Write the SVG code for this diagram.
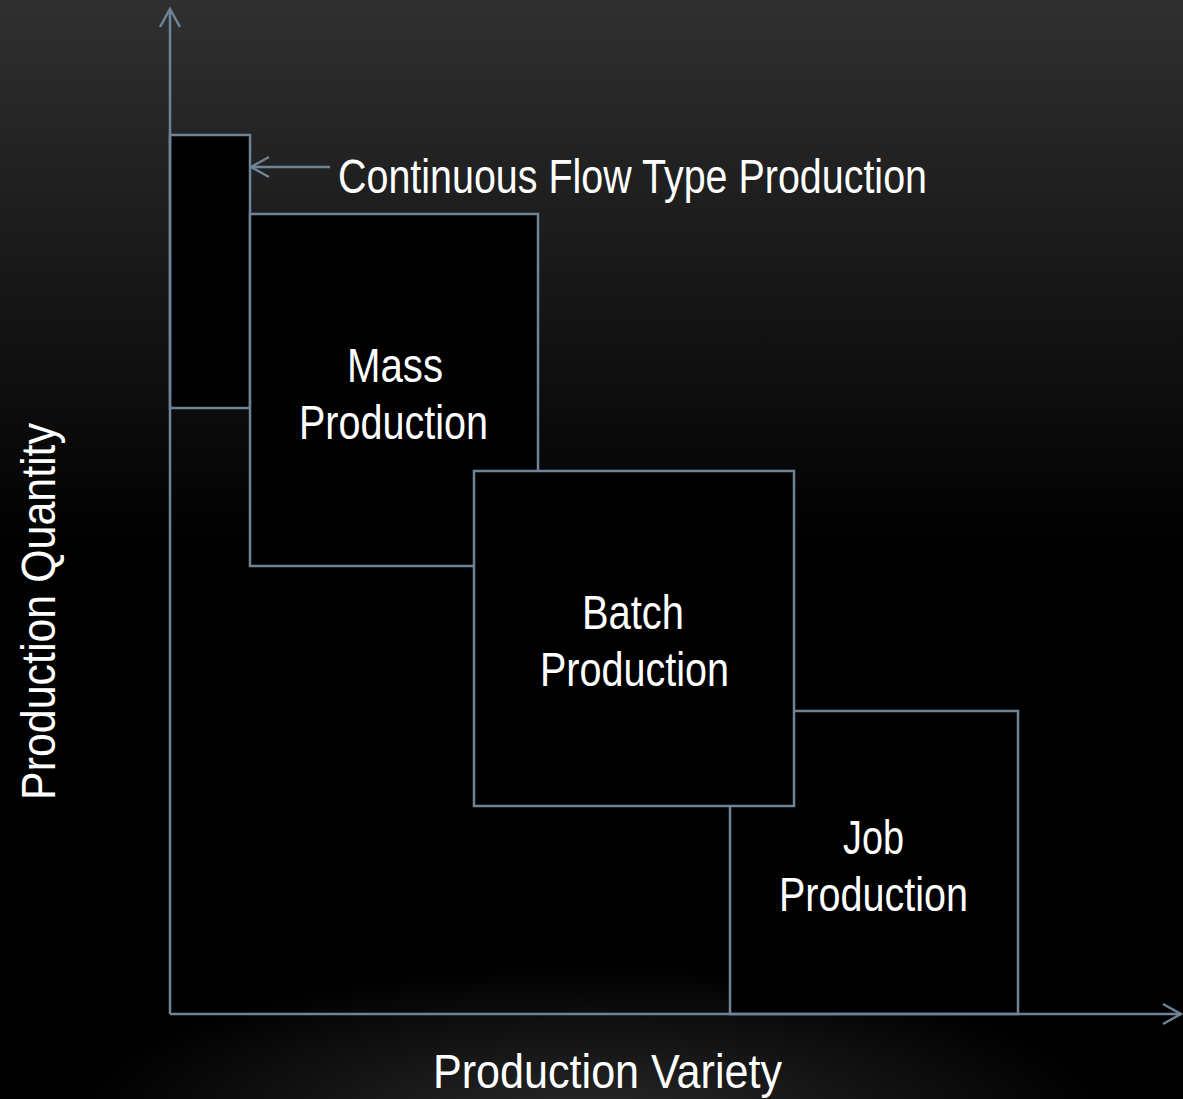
<svg xmlns="http://www.w3.org/2000/svg" width="1183" height="1099" viewBox="0 0 1183 1099">
  <defs>
    <linearGradient id="bgTop" x1="0" y1="0" x2="0" y2="1">
      <stop offset="0" stop-color="#303030"/>
      <stop offset="0.5" stop-color="#000000"/>
      <stop offset="1" stop-color="#000000"/>
    </linearGradient>
    <radialGradient id="bgGlow" cx="591" cy="1120" r="520" gradientUnits="userSpaceOnUse" gradientTransform="translate(591 1120) scale(1 0.3) translate(-591 -1120)">
      <stop offset="0" stop-color="#2a2a2a"/>
      <stop offset="1" stop-color="#2a2a2a" stop-opacity="0"/>
    </radialGradient>
    <marker id="chevron" viewBox="0 0 24 24" refX="22" refY="12" markerWidth="24" markerHeight="24" markerUnits="userSpaceOnUse" orient="auto">
      <path d="M4 2 L22 12 L4 22" fill="none" stroke="#6e8397" stroke-width="2.5"/>
    </marker>
  </defs>
  <style>
    .box { fill: #000000; stroke: #6e8397; stroke-width: 2.5; }
    .axis { fill: none; stroke: #6e8397; stroke-width: 2.5; }
    .lbl { font-family: "Liberation Sans", Arial, sans-serif; font-size: 48px; fill: #ffffff; }
  </style>

  <!-- background -->
  <rect x="0" y="0" width="1183" height="1099" fill="url(#bgTop)"/>
  <rect x="0" y="0" width="1183" height="1099" fill="url(#bgGlow)"/>

  <!-- production-type blocks -->
  <g id="continuous">
    <rect class="box" x="170" y="135" width="80" height="273"/>
  </g>
  <g id="mass">
    <rect class="box" x="250" y="214" width="288" height="352"/>
    <text class="lbl" x="347" y="382" textLength="96" lengthAdjust="spacingAndGlyphs">Mass</text>
    <text class="lbl" x="299" y="439" textLength="189" lengthAdjust="spacingAndGlyphs">Production</text>
  </g>
  <g id="job">
    <rect class="box" x="730" y="711" width="288" height="303"/>
    <text class="lbl" x="843" y="854" textLength="61" lengthAdjust="spacingAndGlyphs">Job</text>
    <text class="lbl" x="779" y="911" textLength="189" lengthAdjust="spacingAndGlyphs">Production</text>
  </g>
  <g id="batch">
    <rect class="box" x="474" y="471" width="320" height="335"/>
    <text class="lbl" x="582" y="629" textLength="102" lengthAdjust="spacingAndGlyphs">Batch</text>
    <text class="lbl" x="540" y="686" textLength="189" lengthAdjust="spacingAndGlyphs">Production</text>
  </g>

  <!-- axes and pointer -->
  <g id="connectors">
    <line class="axis" x1="170" y1="1014" x2="170" y2="9" marker-end="url(#chevron)"/>
    <line class="axis" x1="170" y1="1014" x2="1181" y2="1014" marker-end="url(#chevron)"/>
    <line class="axis" x1="330" y1="167" x2="251" y2="167" marker-end="url(#chevron)"/>
  </g>

  <!-- axis and pointer labels -->
  <g id="labels">
    <text class="lbl" x="338" y="193" textLength="589" lengthAdjust="spacingAndGlyphs">Continuous Flow Type Production</text>
    <text class="lbl" x="433" y="1088" textLength="349" lengthAdjust="spacingAndGlyphs">Production Variety</text>
    <text class="lbl" transform="translate(55 800) rotate(-90)" x="0" y="0" textLength="377" lengthAdjust="spacingAndGlyphs">Production Quantity</text>
  </g>
</svg>
